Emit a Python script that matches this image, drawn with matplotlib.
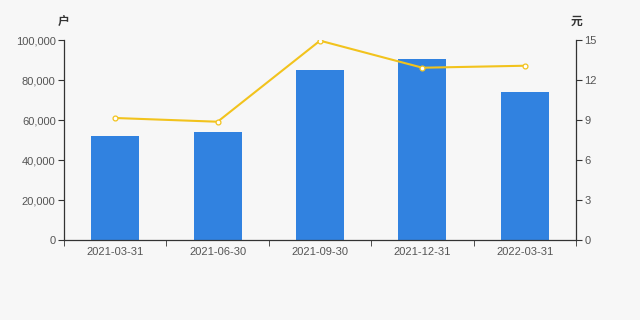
import matplotlib
matplotlib.use("Agg")
import matplotlib.pyplot as plt
import numpy as np
from matplotlib.ticker import FuncFormatter, FixedLocator

plt.rcParams['font.family'] = ['Liberation Sans', 'Noto Sans CJK SC', 'DejaVu Sans']

categories = ["2021-03-31", "2021-06-30", "2021-09-30", "2021-12-31", "2022-03-31"]
holders = [52100, 54000, 85000, 90600, 73800]
price = [9.15, 8.87, 14.95, 12.92, 13.07]
left_ticks = [0, 20000, 40000, 60000, 80000, 100000]
right_ticks = [0, 3, 6, 9, 12, 15]

bg = "#f7f7f7"
fig = plt.figure(figsize=(6.4, 3.2), dpi=100, facecolor=bg)
ax = fig.add_axes([64/640, 1-240/320, 512/640, 200/320], facecolor=bg)
x = np.arange(len(categories))
ax.bar(x, holders, width=0.47, color="#3182e0", zorder=2)
ax.set_xlim(-0.5, len(categories)-0.5)
ax.set_ylim(0, 100000)
ax.yaxis.set_major_locator(FixedLocator(left_ticks))
ax.yaxis.set_major_formatter(FuncFormatter(lambda v, p: f"{int(v):,}"))
ax.set_xticks(x)
ax.set_xticklabels(categories)
ax.set_xticks(np.arange(-0.5, len(categories)), minor=True)
ax.tick_params(axis='x', which='major', length=0, pad=5, labelsize=8, labelcolor="#555555")
ax.tick_params(axis='x', which='minor', length=4, color="#333333")
ax.tick_params(axis='y', length=4, color="#333333", labelsize=8, labelcolor="#555555", pad=2)
for s in ['top', 'right']:
    ax.spines[s].set_visible(False)
for s in ['left', 'bottom']:
    ax.spines[s].set_color("#333333")
    ax.spines[s].set_linewidth(0.9)

ax2 = ax.twinx()
ax2.plot(x, price, color="#f2c31d", linewidth=1.5, marker='o', markersize=3.5,
         markerfacecolor="white", markeredgecolor="#f2c31d", markeredgewidth=0.9, zorder=3)
ax2.set_ylim(0, 15)
ax2.yaxis.set_major_locator(FixedLocator(right_ticks))
ax2.tick_params(axis='y', length=4, color="#333333", labelsize=8, labelcolor="#555555", pad=2)
for s in ['top', 'left', 'bottom']:
    ax2.spines[s].set_visible(False)
ax2.spines['right'].set_color("#333333")
ax2.spines['right'].set_linewidth(0.9)

fig.text(64/640, 1-21/320, "户", ha='center', va='center', fontsize=8.5, color="#333333",
         family=['Noto Sans CJK SC', 'DejaVu Sans'], fontweight='bold')
fig.text(577/640, 1-21/320, "元", ha='center', va='center', fontsize=8.5, color="#333333",
         family=['Noto Sans CJK SC', 'DejaVu Sans'], fontweight='bold')

fig.savefig("out.png", dpi=100, facecolor=bg)
